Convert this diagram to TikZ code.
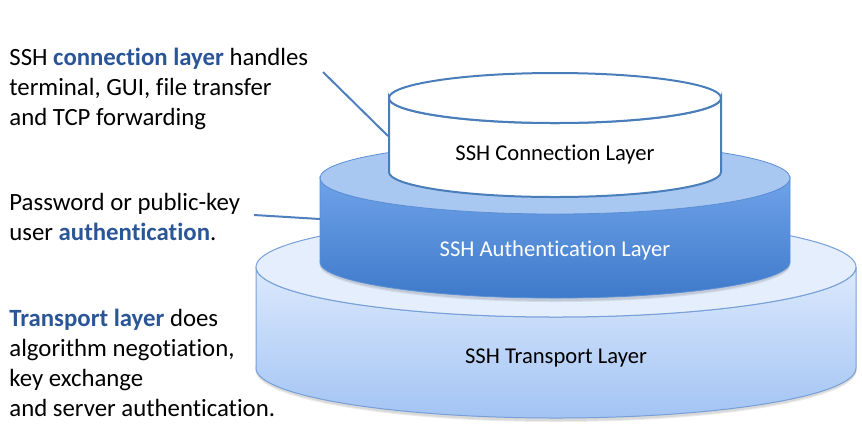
\documentclass[tikz,border=0pt]{standalone}
\usepackage{fontspec}
\setmainfont{Carlito}[Ligatures=NoCommon]
\usepackage{tikz}
\usetikzlibrary{positioning, calc}
\usepackage{xcolor}
\definecolor{keyword}{HTML}{2A5597}
\definecolor{leader}{HTML}{4F7FBF}
\definecolor{connedge}{HTML}{4A7EBB}
\definecolor{authtop}{HTML}{A9C8F1}
\definecolor{authhi}{HTML}{6FA2E9}
\definecolor{authlo}{HTML}{3E7ACA}
\definecolor{authedge}{HTML}{5A8ED6}
\definecolor{tranhi}{HTML}{DCE9FC}
\definecolor{tranlo}{HTML}{A3C4F4}
\definecolor{trantop}{HTML}{E4EEFD}
\definecolor{tranedge}{HTML}{779FD8}

\begin{document}
\begin{tikzpicture}[
    x=0.5pt, y=-0.5pt,
    note/.style={
        anchor=north west, align=left, inner sep=0pt,
        font=\fontsize{12.4}{15}\selectfont, text=black
    },
    layerlabel/.style={font=\fontsize{11.3}{13}\selectfont, inner sep=0pt},
    conn/.style={draw=connedge, line width=1pt, fill=white},
    authside/.style={draw=authedge, line width=0.4pt, top color=authhi, bottom color=authlo},
    authcap/.style={draw=authedge, line width=0.4pt, fill=authtop},
    transide/.style={draw=tranedge, line width=0.5pt, top color=tranhi, bottom color=tranlo},
    trancap/.style={draw=tranedge, line width=0.5pt, fill=trantop},
    shade/.style={fill=black, opacity=0.08},
    lead/.style={draw=leader, line width=1pt},
]
\useasboundingbox (0,0) rectangle (862,441);

% ── Transport layer (bottom) ──────
\path[shade] (556,371) ellipse[x radius=300, y radius=51];
\path[shade] (556,369) ellipse[x radius=301, y radius=52];
\path[transide] (256,267) -- (256,368) arc[start angle=180, end angle=0, x radius=300, y radius=50]
    -- (856,267) arc[start angle=0, end angle=180, x radius=300, y radius=50] -- cycle;
\path[trancap] (556,267) ellipse[x radius=300, y radius=50];
\node[layerlabel] (transport) at (556,358) {SSH Transport Layer};

% ── Authentication layer (middle) ──────
\path[shade] (555,265) ellipse[x radius=235, y radius=37];
\path[shade] (555,263) ellipse[x radius=236, y radius=38];
\path[authside] (320,178) -- (320,262) arc[start angle=180, end angle=0, x radius=235, y radius=36]
    -- (790,178) arc[start angle=0, end angle=180, x radius=235, y radius=36] -- cycle;
\path[authcap] (555,178) ellipse[x radius=235, y radius=36];
\node[layerlabel, text=white] (auth) at (555,250) {SSH Authentication Layer};

% ── Connection layer (top) ──────
\path[conn] (389,98) -- (389,172) arc[start angle=180, end angle=0, x radius=166, y radius=25]
    -- (721,98) arc[start angle=0, end angle=180, x radius=166, y radius=25] -- cycle;
\path[conn] (555,98) ellipse[x radius=166, y radius=25];
\node[layerlabel] (connection) at (555,155) {SSH Connection Layer};

% ── Notes ──────
\node[note] (connnote) at (9,44) {\strut SSH \textcolor{keyword}{\bfseries connection layer} handles\\
    terminal, GUI, file transfer\\and TCP forwarding};
\node[note] (authnote) at (9,189) {\strut Password or public-key\\user \textcolor{keyword}{\bfseries authentication}.};
\node[note] (trannote) at (9,305) {\strut\textcolor{keyword}{\bfseries Transport layer} does\\
    algorithm negotiation,\\key exchange\\and server authentication.};

% ── Leader lines ──────
\coordinate (connfrom) at (323,72);
\coordinate (connto) at (388,136);
\coordinate (authfrom) at (254,215);
\coordinate (authto) at (320,219);
\draw[lead] (connfrom) -- (connto);
\draw[lead] (authfrom) -- (authto);

\end{tikzpicture}
\end{document}
